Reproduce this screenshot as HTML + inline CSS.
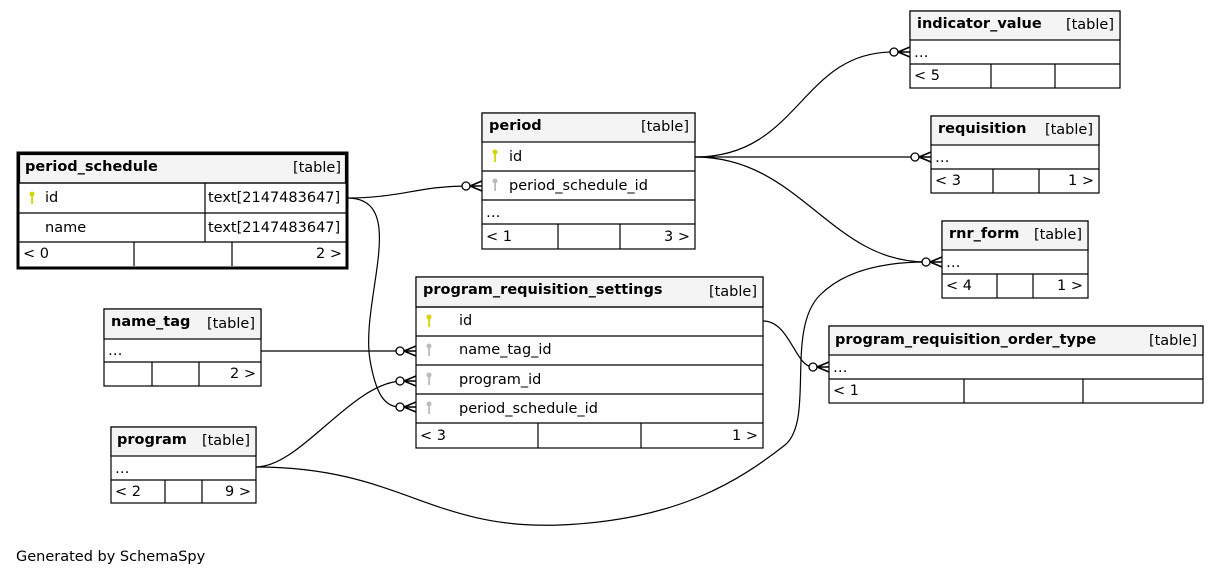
<!DOCTYPE html>
<html><head><meta charset="utf-8"><style>
html,body{margin:0;padding:0;background:#fff;}
svg{display:block;}
text{font-family:"DejaVu Sans","Liberation Sans",sans-serif;font-size:14.5px;fill:#000;}
.b{font-weight:bold;}
.e{fill:none;stroke:#000;stroke-width:1.2;}
.t{fill:#fff;stroke:#000;stroke-width:1.2;}
.h{fill:#f4f4f4;stroke:#000;stroke-width:1.2;}
.l{stroke:#000;stroke-width:1.2;}
</style></head><body>
<svg width="1219" height="576" viewBox="0 0 1219 576" xmlns="http://www.w3.org/2000/svg">
<defs>
<g id="cf"><circle cx="-16" cy="0" r="4" fill="#fff" stroke="#000" stroke-width="1.3"/><path d="M-12 0 L0 -5 M-12 0 L0 0 M-12 0 L0 5" stroke="#000" stroke-width="1.5" fill="none"/></g>
<g id="kY"><circle cx="0" cy="-3" r="2.5" fill="#d4d400"/><rect x="-0.8" y="-1" width="1.8" height="8" fill="#d4d400"/></g>
<g id="kG"><circle cx="0" cy="-3" r="2.5" fill="#bbb"/><rect x="-0.8" y="-1" width="1.8" height="8" fill="#bbb"/></g>
</defs>

<path class="e" d="M695 157 C800 157 800 52 893 52"/>
<path class="e" d="M695 157 L915 157"/>
<path class="e" d="M695 157 C800 157 830 262 926 262"/>
<path class="e" d="M347 198 C400 198 420 186 466 186"/>
<path class="e" d="M347 198 C410 198 360 300 370 360 C376 395 385 407 400 407"/>
<path class="e" d="M261 351 L400 351"/>
<path class="e" d="M256 467 C300 467 350 385 400 381"/>
<path class="e" d="M256 467 C400 467 430 530 560 525 C680 520 740 480 785 445 C815 420 785 330 820 295 C850 265 900 262 926 262"/>
<path class="e" d="M763 321 C790 321 795 367 813 367"/>

<use href="#cf" x="910" y="52"/>
<use href="#cf" x="931" y="157"/>
<use href="#cf" x="942" y="262"/>
<use href="#cf" x="482" y="186"/>
<use href="#cf" x="416" y="351"/>
<use href="#cf" x="416" y="381"/>
<use href="#cf" x="416" y="407"/>
<use href="#cf" x="829" y="367"/>

<!-- indicator_value -->
<rect class="t" x="910" y="11" width="210" height="77"/>
<rect class="h" x="910" y="11" width="210" height="29"/>
<text class="b" x="917" y="28">indicator_value</text><text x="1114" y="29" text-anchor="end">[table]</text>
<line class="l" x1="910" y1="64" x2="1120" y2="64"/>
<text x="914" y="57">…</text>
<text x="914" y="80">&lt; 5</text>
<line class="l" x1="991" y1="64" x2="991" y2="88"/><line class="l" x1="1055" y1="64" x2="1055" y2="88"/>

<!-- requisition -->
<rect class="t" x="931" y="116" width="168" height="77"/>
<rect class="h" x="931" y="116" width="168" height="29"/>
<text class="b" x="938" y="133">requisition</text><text x="1093" y="134" text-anchor="end">[table]</text>
<line class="l" x1="931" y1="169" x2="1099" y2="169"/>
<text x="935" y="162">…</text>
<text x="935" y="185">&lt; 3</text><text x="1094" y="185" text-anchor="end">1 &gt;</text>
<line class="l" x1="993" y1="169" x2="993" y2="193"/><line class="l" x1="1039" y1="169" x2="1039" y2="193"/>

<!-- period -->
<rect class="t" x="482" y="113" width="213" height="136"/>
<rect class="h" x="482" y="113" width="213" height="29"/>
<text class="b" x="489" y="130">period</text><text x="689" y="131" text-anchor="end">[table]</text>
<line class="l" x1="482" y1="171" x2="695" y2="171"/>
<line class="l" x1="482" y1="200" x2="695" y2="200"/>
<line class="l" x1="482" y1="224" x2="695" y2="224"/>
<use href="#kY" x="495" y="155"/><text x="509" y="161">id</text>
<use href="#kG" x="495" y="184"/><text x="509" y="190">period_schedule_id</text>
<text x="486" y="217">…</text>
<text x="486" y="241">&lt; 1</text><text x="690" y="241" text-anchor="end">3 &gt;</text>
<line class="l" x1="558" y1="224" x2="558" y2="249"/><line class="l" x1="620" y1="224" x2="620" y2="249"/>

<!-- period_schedule -->
<rect x="18" y="153" width="329" height="115" fill="#fff" stroke="#000" stroke-width="3"/>
<rect class="h" x="19.5" y="154.5" width="326" height="28.5" stroke="none"/>
<line class="l" x1="18" y1="183" x2="347" y2="183"/>
<line class="l" x1="18" y1="213" x2="347" y2="213"/>
<line class="l" x1="18" y1="242" x2="347" y2="242"/>
<line class="l" x1="205" y1="183" x2="205" y2="242"/>
<text class="b" x="25" y="171">period_schedule</text><text x="341" y="172" text-anchor="end">[table]</text>
<use href="#kY" x="32" y="197"/><text x="45" y="202">id</text><text x="208" y="202">text[2147483647]</text>
<text x="45" y="232">name</text><text x="208" y="232">text[2147483647]</text>
<text x="23" y="258">&lt; 0</text><text x="342" y="258" text-anchor="end">2 &gt;</text>
<line class="l" x1="134" y1="242" x2="134" y2="266"/><line class="l" x1="232" y1="242" x2="232" y2="266"/>

<!-- rnr_form -->
<rect class="t" x="942" y="221" width="146" height="77"/>
<rect class="h" x="942" y="221" width="146" height="29"/>
<text class="b" x="949" y="238">rnr_form</text><text x="1082" y="239" text-anchor="end">[table]</text>
<line class="l" x1="942" y1="274" x2="1088" y2="274"/>
<text x="946" y="267">…</text>
<text x="946" y="290">&lt; 4</text><text x="1083" y="290" text-anchor="end">1 &gt;</text>
<line class="l" x1="997" y1="274" x2="997" y2="298"/><line class="l" x1="1033" y1="274" x2="1033" y2="298"/>

<!-- program_requisition_settings -->
<rect class="t" x="416" y="277" width="347" height="171"/>
<rect class="h" x="416" y="277" width="347" height="30"/>
<text class="b" x="423" y="294">program_requisition_settings</text><text x="757" y="296" text-anchor="end">[table]</text>
<line class="l" x1="416" y1="307" x2="763" y2="307"/>
<line class="l" x1="416" y1="336" x2="763" y2="336"/>
<line class="l" x1="416" y1="365" x2="763" y2="365"/>
<line class="l" x1="416" y1="394" x2="763" y2="394"/>
<line class="l" x1="416" y1="423" x2="763" y2="423"/>
<use href="#kY" x="429" y="320"/><text x="459" y="325">id</text>
<use href="#kG" x="429" y="349"/><text x="459" y="354">name_tag_id</text>
<use href="#kG" x="429" y="378"/><text x="459" y="384">program_id</text>
<use href="#kG" x="429" y="407"/><text x="459" y="413">period_schedule_id</text>
<text x="420" y="440">&lt; 3</text><text x="758" y="440" text-anchor="end">1 &gt;</text>
<line class="l" x1="538" y1="423" x2="538" y2="448"/><line class="l" x1="641" y1="423" x2="641" y2="448"/>

<!-- program_requisition_order_type -->
<rect class="t" x="829" y="326" width="374" height="77"/>
<rect class="h" x="829" y="326" width="374" height="29"/>
<text class="b" x="835" y="344">program_requisition_order_type</text><text x="1197" y="345" text-anchor="end">[table]</text>
<line class="l" x1="829" y1="379" x2="1203" y2="379"/>
<text x="833" y="372">…</text>
<text x="833" y="395">&lt; 1</text>
<line class="l" x1="964" y1="379" x2="964" y2="403"/><line class="l" x1="1083" y1="379" x2="1083" y2="403"/>

<!-- name_tag -->
<rect class="t" x="104" y="309" width="157" height="77"/>
<rect class="h" x="104" y="309" width="157" height="30"/>
<text class="b" x="111" y="326">name_tag</text><text x="255" y="328" text-anchor="end">[table]</text>
<line class="l" x1="104" y1="362" x2="261" y2="362"/>
<text x="108" y="355">…</text>
<text x="256" y="378" text-anchor="end">2 &gt;</text>
<line class="l" x1="152" y1="362" x2="152" y2="386"/><line class="l" x1="199" y1="362" x2="199" y2="386"/>

<!-- program -->
<rect class="t" x="111" y="427" width="145" height="76"/>
<rect class="h" x="111" y="427" width="145" height="29"/>
<text class="b" x="117" y="444">program</text><text x="250" y="445" text-anchor="end">[table]</text>
<line class="l" x1="111" y1="480" x2="256" y2="480"/>
<text x="115" y="473">…</text>
<text x="115" y="496">&lt; 2</text><text x="251" y="496" text-anchor="end">9 &gt;</text>
<line class="l" x1="165" y1="480" x2="165" y2="503"/><line class="l" x1="202" y1="480" x2="202" y2="503"/>

<text x="16" y="561">Generated by SchemaSpy</text>
</svg>
</body></html>
